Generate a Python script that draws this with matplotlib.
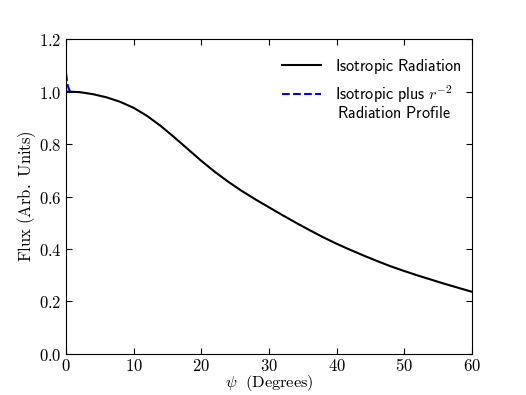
import numpy as np
import matplotlib
matplotlib.use('Agg')
import matplotlib.pyplot as plt
from matplotlib.ticker import FuncFormatter

# curve, every 2 degrees
psi = list(range(0, 62, 2))
flux_iso = [1.000, 0.998, 0.990, 0.978, 0.961, 0.938, 0.907, 0.869, 0.826,
            0.781, 0.736, 0.694, 0.656, 0.621, 0.589, 0.559, 0.529, 0.500,
            0.472, 0.445, 0.420, 0.397, 0.375, 0.354, 0.334, 0.316, 0.299,
            0.283, 0.267, 0.252, 0.237]
psi_r2 = [0, 0.1, 0.2, 0.35, 0.5, 0.7]
flux_r2 = [1.07, 1.05, 1.03, 1.015, 1.005, 1.0]

xticks = [0, 10, 20, 30, 40, 50, 60]
yticks = [0.0, 0.2, 0.4, 0.6, 0.8, 1.0, 1.2]

plt.rcParams['mathtext.fontset'] = 'cm'
plt.rcParams['xtick.direction'] = 'in'
plt.rcParams['ytick.direction'] = 'in'
plt.rcParams['xtick.top'] = True
plt.rcParams['ytick.right'] = True
plt.rcParams['xtick.major.size'] = 4
plt.rcParams['ytick.major.size'] = 4

fig = plt.figure(figsize=(5.26, 3.95), dpi=100)
ax = fig.add_axes([0.1255, 0.104, 0.7715, 0.797])

ax.plot(psi, flux_iso, '-', color='black', lw=1.5,
        label=r'$\mathsf{Isotropic\ Radiation}$')
ax.plot(psi_r2, flux_r2, '--', color='blue', lw=1.5,
        label=r'$\mathsf{Isotropic\ plus\ }r^{-2}$')

ax.set_xlim(0, 60)
ax.set_ylim(0, 1.2)
ax.set_xticks(xticks)
ax.set_yticks(yticks)
ax.xaxis.set_major_formatter(FuncFormatter(lambda v, p: r'$%d$' % v))
ax.yaxis.set_major_formatter(FuncFormatter(lambda v, p: r'$%.1f$' % v))
ax.tick_params(labelsize=12, pad=3)
ax.tick_params(axis='x', pad=2)

ax.set_xlabel(r'$\psi\ \ \mathrm{(Degrees)}$', fontsize=11.8, labelpad=-1)
ax.set_ylabel(r'$\mathrm{Flux\ (Arb.\ Units)}$', fontsize=12, labelpad=1)

ax.legend(loc='upper left', bbox_to_anchor=(0.497, 0.99), frameon=False,
          fontsize=11.6, handlelength=2.4, handletextpad=0.9, labelspacing=0.5)
ax.text(0.667, 0.766, r'$\mathsf{Radiation\ Profile}$', transform=ax.transAxes,
        fontsize=11.6, va='center', ha='left')

fig.savefig('out.png', dpi=100, facecolor='white')
